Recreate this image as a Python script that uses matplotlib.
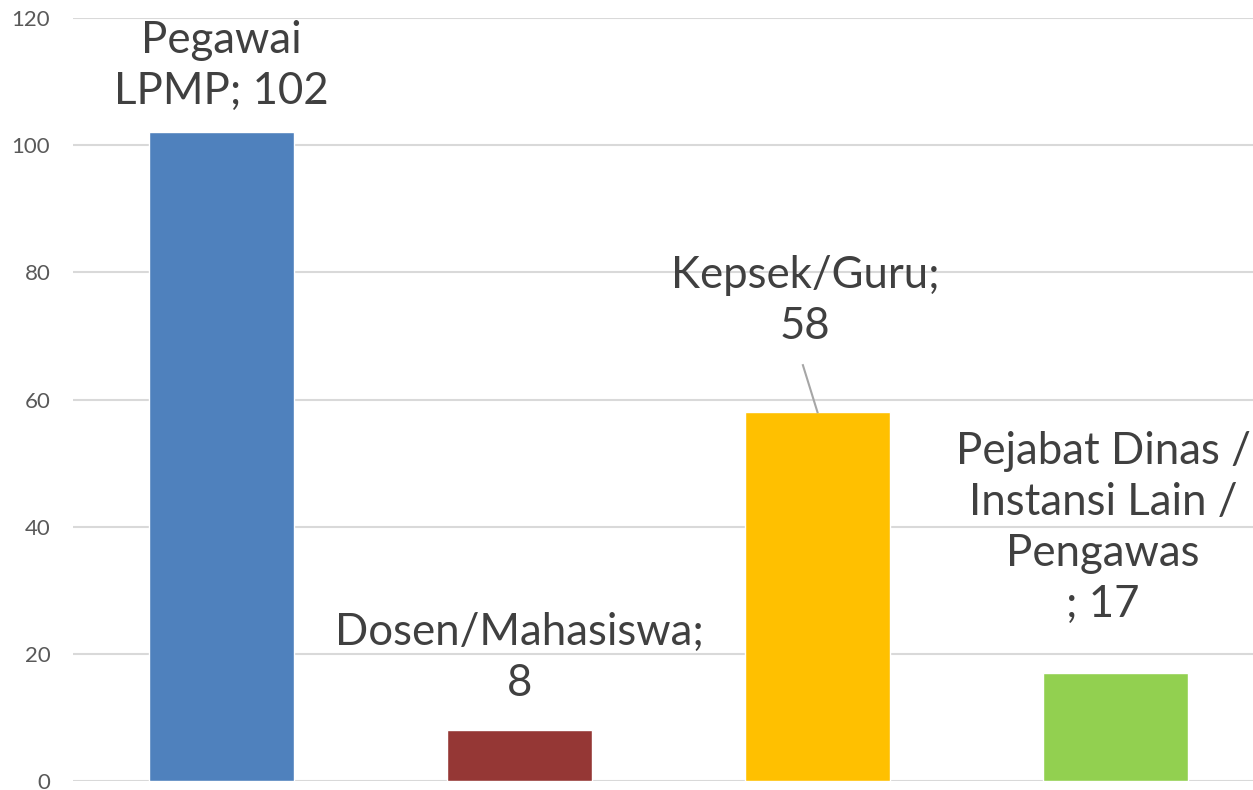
import matplotlib.pyplot as plt

# data
categories = ["Pegawai LPMP", "Dosen/Mahasiswa", "Kepsek/Guru",
              "Pejabat Dinas / Instansi Lain / Pengawas"]
values = [102, 8, 58, 17]
colors = ["#4F81BD", "#953735", "#FFC000", "#92D050"]
# label text as wrapped in the original
label_lines = [["Pegawai", "LPMP; 102"],
               ["Dosen/Mahasiswa;", "8"],
               ["Kepsek/Guru;", "58"],
               ["Pejabat Dinas /", "Instansi Lain /", "Pengawas", "; 17"]]
yticks = [0, 20, 40, 60, 80, 100, 120]

plt.rcParams['font.family'] = ['Lato', 'DejaVu Sans']

fig = plt.figure(figsize=(12.53, 7.90), dpi=100)
W, H = 1253, 790
ax = fig.add_axes([72.5 / W, (H - 781) / H, 1192 / W, (781 - 18) / H])

x = range(len(categories))
ax.bar(x, values, width=0.487, color=colors, edgecolor="white", linewidth=1, zorder=3)

ax.set_xlim(-0.5, 3.5)
ax.set_ylim(0, 120)
ax.set_yticks(yticks)
ax.yaxis.grid(True, color="#D9D9D9", linewidth=1.5, zorder=0)
ax.set_xticks([])
for s in ax.spines.values():
    s.set_visible(False)
ax.tick_params(axis="y", length=0, pad=16, labelsize=16, labelcolor="#595959")

# data labels (positions)
label_pos = [(0, 112.4), (1, 19.3), (1.958, 75.5), (2.958, 39.8)]
for (lx, ly), lines in zip(label_pos, label_lines):
    ax.text(lx, ly, "\n".join(lines), ha="center", va="center", fontsize=31.5,
            color="#404040", linespacing=1.3, zorder=4)

# leader line for Kepsek/Guru
ax.plot([1.951, 2.0], [65.4, 58.0], color="#A6A6A6", linewidth=1.5, zorder=4)

fig.savefig("out.png", dpi=100)
